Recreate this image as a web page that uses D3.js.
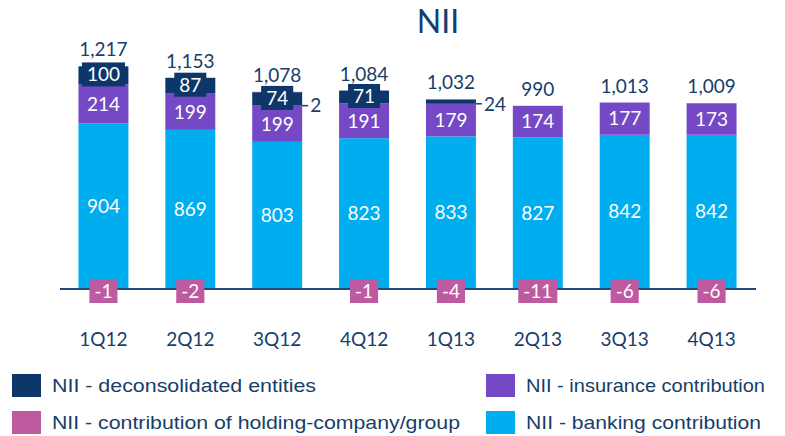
<!DOCTYPE html>
<meta charset="utf-8" />
<script src="https://d3js.org/d3.v7.min.js"></script>
<body style="margin:0;background:#fff">
<svg id="chart" width="785" height="436"></svg>
<script>
/* ── DATA ── */
const quarters = ["1Q12","2Q12","3Q12","4Q12","1Q13","2Q13","3Q13","4Q13"];
const banking   = [904, 869, 803, 823, 833, 827, 842, 842];
const insurance = [214, 199, 199, 191, 179, 174, 177, 173];
const deconsol  = [100,  87,  74,  71,  24,   0,   0,   0];
const holding   = [ -1,  -2,   2,  -1,  -4, -11,  -6,  -6];
const totals    = [1217, 1153, 1078, 1084, 1032, 990, 1013, 1009];

/* ── CONFIG ── */
const navy = "#0d3769", textCol = "#173d6b";
const keys = ["banking","insurance","deconsol","holding"];
const colour = d3.scaleOrdinal(keys, ["#00adef","#7548c5","#0d3769","#be5aa0"]);
const numFont = "Lato, 'Open Sans', sans-serif";
const fs = 19;

const rows = quarters.map((q,i)=>({q, banking:banking[i], insurance:insurance[i],
  deconsol:deconsol[i], holding:holding[i], total:totals[i]}));

const svg = d3.select("#chart");
const x = d3.scaleBand().domain(quarters).range([60,755]).paddingInner(0.425).paddingOuter(0.2125);
const y = d3.scaleLinear().domain([0,1000]).range([288,106]);

const series = d3.stack().keys(keys).offset(d3.stackOffsetDiverging)(rows);

/* title */
svg.append("text").attr("x",438).attr("y",33).attr("text-anchor","middle")
  .attr("font-family",numFont).attr("font-size",32).attr("fill","#123f70").text("NII");

/* bars */
svg.append("g").selectAll("g").data(series).join("g")
  .attr("fill",s=>colour(s.key))
  .selectAll("rect").data(s=>s).join("rect")
    .attr("x",d=>x(d.data.q)).attr("width",x.bandwidth())
    .attr("y",d=>y(Math.max(d[0],d[1]))).attr("height",d=>Math.abs(y(d[0])-y(d[1])));

/* axis line */
svg.append("line").attr("x1",60).attr("x2",756).attr("y1",y(0)+1).attr("y2",y(0)+1)
  .attr("stroke","#1f4a7a").attr("stroke-width",2);

/* tick labels */
const ax = svg.append("g").attr("transform",`translate(0,${y(0)})`)
  .call(d3.axisBottom(x).tickSize(0).tickPadding(45));
ax.select(".domain").remove();
ax.selectAll("text").attr("font-family",numFont).attr("font-size",fs).attr("fill",textCol);

const lab = svg.append("g").attr("font-family",numFont).attr("font-size",fs).attr("text-anchor","middle");
const cx = d=>x(d.q)+x.bandwidth()/2;

/* inside labels: banking and insurance */
[["banking",0],["insurance",1]].forEach(([k,si])=>{
  lab.selectAll(null).data(series[si]).join("text")
    .attr("x",d=>cx(d.data)).attr("y",d=>(y(d[0])+y(d[1]))/2).attr("dy","0.36em")
    .attr("fill","#fff").text(d=>d.data[k]);
});

/* boxed label helper */
function boxLabel(g,px,py,txt,fill){
  const t = g.append("text").attr("x",px).attr("y",py).attr("dy","0.36em")
    .attr("fill","#fff").text(txt);
  const w = t.node().getComputedTextLength();
  g.insert("rect","text:last-child").attr("x",px-w/2-5).attr("y",py-12)
    .attr("width",w+10).attr("height",24).attr("fill",fill);
}

/* outside label with leader line */
function sideLabel(g,d,txt){
  const x0 = x(d.q)+x.bandwidth(), py = y(d.banking+d.insurance);
  g.append("line").attr("x1",x0).attr("x2",x0+6).attr("y1",py).attr("y2",py)
    .attr("stroke",textCol).attr("stroke-width",1.5);
  g.append("text").attr("x",x0+8).attr("y",py).attr("dy","0.36em")
    .attr("text-anchor","start").attr("fill",textCol).text(txt);
}

series[2].forEach(d=>{
  const v = d.data.deconsol;
  if(!v) return;
  if(v < 50) { sideLabel(lab,d.data,v); return; }
  const g = lab.append("g");
  boxLabel(g,cx(d.data),(y(d[0])+y(d[1]))/2-1,v,navy);
});

series[3].forEach(d=>{
  const v = d.data.holding;
  if(v > 0) { sideLabel(lab,d.data,v); return; }
  const g = lab.append("g");
  boxLabel(g,cx(d.data),y(0)+3,v,colour("holding"));
});

/* totals */
lab.selectAll(null).data(rows).join("text")
  .attr("x",cx)
  .attr("y",d=>y(d.banking+d.insurance+d.deconsol+Math.max(0,d.holding))-10)
  .attr("fill",textCol).text(d=>d3.format(",")(d.total));

/* legend */
const legend = [
  ["deconsol","NII - deconsolidated entities",12,374,264],
  ["insurance","NII - insurance contribution",486,374,239],
  ["holding","NII - contribution of holding-company/group",12,411,408],
  ["banking","NII - banking contribution",486,411,235]
];
const lg = svg.append("g").selectAll("g").data(legend).join("g")
  .attr("transform",d=>`translate(${d[2]},${d[3]})`);
lg.append("rect").attr("width",29).attr("height",23).attr("fill",d=>colour(d[0]));
lg.append("text").attr("x",40).attr("y",18)
  .attr("font-family","'Liberation Sans', Arial, sans-serif")
  .attr("font-size",19).attr("fill",textCol)
  .attr("textLength",d=>d[4]).attr("lengthAdjust","spacingAndGlyphs").text(d=>d[1]);
</script>
</body>
